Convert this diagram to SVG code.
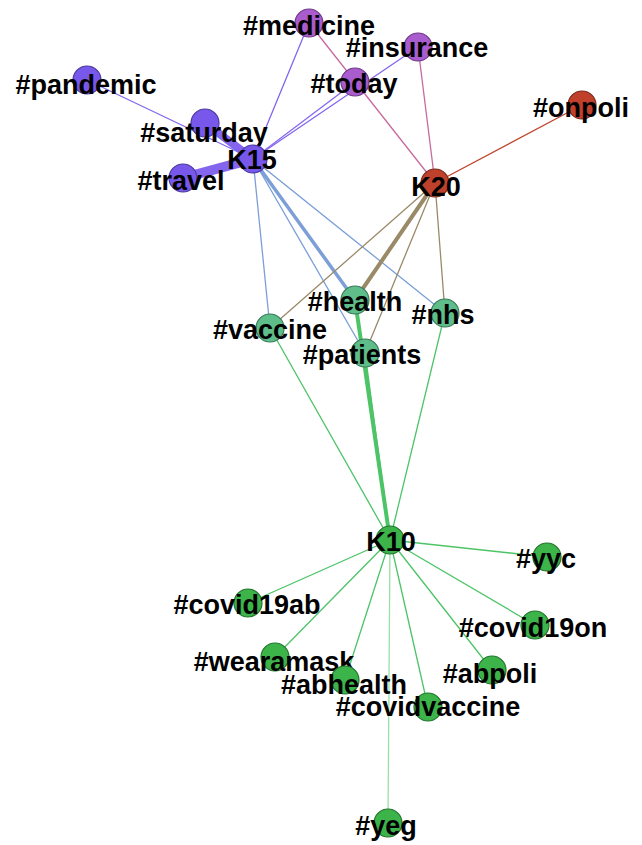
<svg xmlns="http://www.w3.org/2000/svg" width="642" height="845" viewBox="0 0 642 845">
<style>
.bg{fill:#ffffff}
.e{fill:none;stroke-linecap:round}
.pu{stroke:#8466ee}
.pk{stroke:#c86a9e}
.rd{stroke:#c0452f}
.bl{stroke:#7b9fd6}
.br{stroke:#9a8a68}
.gr{stroke:#4cc467}
.gl{stroke:#98e0a6}
circle{stroke-width:1.2}
.cP{fill:#7758ea;stroke:#4b3a9e}
.cM{fill:#a95ccd;stroke:#6f3a88}
.cR{fill:#c0412b;stroke:#7a2a1c}
.cT{fill:#5fbd8a;stroke:#3a7a58}
.cG{fill:#3cb44a;stroke:#24742e}
text{font-family:"Liberation Sans",Arial,sans-serif;font-weight:bold;font-size:27px;fill:#000;text-anchor:middle}
</style>
<rect class="bg" x="0" y="0" width="642" height="845"/>
<g id="connectors">
<line class="e pu" x1="87" y1="80" x2="253" y2="159" stroke-width="1.3"/>
<line class="e pu" x1="205" y1="123" x2="253" y2="159" stroke-width="8"/>
<line class="e pu" x1="183" y1="178" x2="253" y2="159" stroke-width="10"/>
<line class="e pu" x1="309" y1="23" x2="253" y2="159" stroke-width="1.3"/>
<line class="e pu" x1="355" y1="82" x2="253" y2="159" stroke-width="1.3"/>
<line class="e pu" x1="418" y1="47" x2="253" y2="159" stroke-width="1.3"/>
<line class="e pk" x1="309" y1="23" x2="435" y2="183" stroke-width="1.3"/>
<line class="e pk" x1="418" y1="47" x2="435" y2="183" stroke-width="1.3"/>
<line class="e rd" x1="582" y1="105" x2="435" y2="183" stroke-width="1.3"/>
<line class="e bl" x1="253" y1="159" x2="270" y2="328" stroke-width="1.3"/>
<line class="e bl" x1="253" y1="159" x2="355" y2="300" stroke-width="3.5"/>
<line class="e bl" x1="253" y1="159" x2="365" y2="353" stroke-width="1.3"/>
<line class="e bl" x1="253" y1="159" x2="445" y2="313" stroke-width="1.3"/>
<line class="e br" x1="435" y1="183" x2="270" y2="328" stroke-width="1.3"/>
<line class="e br" x1="435" y1="183" x2="355" y2="300" stroke-width="4"/>
<line class="e br" x1="435" y1="183" x2="365" y2="353" stroke-width="1.3"/>
<line class="e br" x1="435" y1="183" x2="445" y2="313" stroke-width="1.3"/>
<line class="e gr" x1="390" y1="540" x2="270" y2="328" stroke-width="1.3"/>
<line class="e gr" x1="390" y1="540" x2="355" y2="300" stroke-width="4"/>
<line class="e gr" x1="390" y1="540" x2="365" y2="353" stroke-width="1.5"/>
<line class="e gr" x1="390" y1="540" x2="445" y2="313" stroke-width="1.3"/>
<line class="e gr" x1="390" y1="540" x2="547" y2="557" stroke-width="1.3"/>
<line class="e gr" x1="390" y1="540" x2="248" y2="603" stroke-width="1.3"/>
<line class="e gr" x1="390" y1="540" x2="535" y2="625" stroke-width="1.3"/>
<line class="e gr" x1="390" y1="540" x2="275" y2="657" stroke-width="1.3"/>
<line class="e gr" x1="390" y1="540" x2="345" y2="680" stroke-width="1.3"/>
<line class="e gr" x1="390" y1="540" x2="492" y2="670" stroke-width="1.3"/>
<line class="e gr" x1="390" y1="540" x2="428" y2="707" stroke-width="1.3"/>
<line class="e gl" x1="390" y1="540" x2="388" y2="823" stroke-width="1.3"/>
</g>
<g id="n-pandemic"><circle class="cP" cx="87" cy="80" r="14"/><text x="86" y="94">#pandemic</text></g>
<g id="n-saturday"><circle class="cP" cx="205" cy="123" r="14"/><text x="204" y="142">#saturday</text></g>
<g id="n-travel"><circle class="cP" cx="183" cy="178" r="14"/><text x="181" y="190">#travel</text></g>
<g id="n-K15"><circle class="cP" cx="253" cy="159" r="14"/><text x="252" y="169">K15</text></g>
<g id="n-medicine"><circle class="cM" cx="309" cy="23" r="14"/><text x="309" y="35">#medicine</text></g>
<g id="n-insurance"><circle class="cM" cx="418" cy="47" r="14"/><text x="417" y="57">#insurance</text></g>
<g id="n-today"><circle class="cM" cx="355" cy="82" r="14"/><text x="354" y="93">#today</text></g>
<g id="n-onpoli"><circle class="cR" cx="582" cy="105" r="14"/><text x="581" y="117">#onpoli</text></g>
<g id="n-K20"><circle class="cR" cx="435" cy="183" r="14"/><text x="436" y="196">K20</text></g>
<g id="n-health"><circle class="cT" cx="355" cy="300" r="14"/><text x="355" y="311">#health</text></g>
<g id="n-nhs"><circle class="cT" cx="445" cy="313" r="14"/><text x="443" y="324">#nhs</text></g>
<g id="n-vaccine"><circle class="cT" cx="270" cy="328" r="14"/><text x="270" y="339">#vaccine</text></g>
<g id="n-patients"><circle class="cT" cx="365" cy="353" r="14"/><text x="362" y="364">#patients</text></g>
<g id="n-K10"><circle class="cG" cx="390" cy="540" r="14"/><text x="391" y="551">K10</text></g>
<g id="n-yyc"><circle class="cG" cx="547" cy="557" r="14"/><text x="546" y="568">#yyc</text></g>
<g id="n-covid19ab"><circle class="cG" cx="248" cy="603" r="14"/><text x="247" y="614">#covid19ab</text></g>
<g id="n-covid19on"><circle class="cG" cx="535" cy="625" r="14"/><text x="533" y="637">#covid19on</text></g>
<g id="n-wearamask"><circle class="cG" cx="275" cy="657" r="14"/><text x="274" y="671">#wearamask</text></g>
<g id="n-abhealth"><circle class="cG" cx="345" cy="680" r="14"/><text x="344" y="694">#abhealth</text></g>
<g id="n-abpoli"><circle class="cG" cx="492" cy="670" r="14"/><text x="490" y="683">#abpoli</text></g>
<g id="n-covidvaccine"><circle class="cG" cx="428" cy="707" r="14"/><text x="428" y="716">#covidvaccine</text></g>
<g id="n-yeg"><circle class="cG" cx="388" cy="823" r="14"/><text x="386" y="835">#yeg</text></g>
</svg>
